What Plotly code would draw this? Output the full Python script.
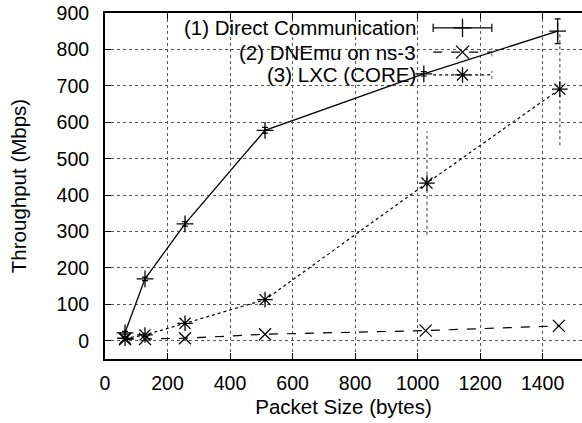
import plotly.graph_objects as go

# ---- data ----
pkt_direct = [64, 128, 256, 512, 1020, 1448]
thr_direct = [22, 170, 321, 578, 733, 850]
err_direct = [4, 5, 6, 8, 6, 34]

pkt_dnemu = [64, 128, 256, 512, 1026, 1452]
thr_dnemu = [4, 5, 7, 18, 28, 41]

pkt_lxc = [64, 128, 256, 512, 1030, 1455]
thr_lxc = [7, 16, 48, 113, 433, 691]
err_lxc = [3, 4, 5, 8, 142, 154]

names = ["(1) Direct Communication", "(2) DNEmu on ns-3", "(3) LXC (CORE)"]

x_ticks = [0, 200, 400, 600, 800, 1000, 1200, 1400]
y_ticks = [0, 100, 200, 300, 400, 500, 600, 700, 800, 900]

FONT = "Liberation Sans, Arial, Helvetica, sans-serif"
fig = go.Figure()

# Direct communication
fig.add_trace(go.Scatter(
    x=pkt_direct, y=thr_direct, mode="lines+markers",
    line=dict(color="black", width=1.3, dash="solid"),
    marker=dict(symbol="cross-thin", size=12, color="black",
                line=dict(color="black", width=1.3)),
    error_y=dict(type="data", array=err_direct, color="black", thickness=1.2, width=3),
    showlegend=False))

# DNEmu
fig.add_trace(go.Scatter(
    x=pkt_dnemu, y=thr_dnemu, mode="lines+markers",
    line=dict(color="black", width=1.2, dash="dash"),
    marker=dict(symbol="x-thin", size=12, color="black",
                line=dict(color="black", width=1.3)),
    showlegend=False))

# LXC error bars (dotted)
ex, ey = [], []
for xv, yv, ev in zip(pkt_lxc, thr_lxc, err_lxc):
    ex += [xv, xv, None]
    ey += [yv - ev, yv + ev, None]
fig.add_trace(go.Scatter(x=ex, y=ey, mode="lines",
                         line=dict(color="#777", width=1.5, dash="dot"),
                         showlegend=False, hoverinfo="skip"))
# LXC
fig.add_trace(go.Scatter(
    x=pkt_lxc, y=thr_lxc, mode="lines+markers",
    line=dict(color="black", width=1.2, dash="dot"),
    marker=dict(symbol="asterisk-open", size=13, color="black",
                line=dict(color="black", width=1.3)),
    showlegend=False))

# ---- manual gnuplot-style legend ----
leg_y = [0.957, 0.887, 0.821]
leg_text_x = 0.656
leg_x0, leg_x1 = 0.688, 0.811
leg_cx = (leg_x0 + leg_x1) / 2
dashes = ["solid", "dash", "dot"]
symbols = ["cross-thin", "x-thin", "asterisk-open"]
for i in range(3):
    fig.add_annotation(x=leg_text_x, y=leg_y[i], xref="paper", yref="paper",
                       text=names[i], showarrow=False, xanchor="right", yanchor="middle",
                       font=dict(family=FONT, size=20.5, color="black"))
    fig.add_shape(type="line", xref="paper", yref="paper", x0=leg_x0, x1=leg_x1,
                  y0=leg_y[i], y1=leg_y[i],
                  line=dict(color="black", width=1.2, dash=dashes[i]))
    fig.add_trace(go.Scatter(x=[leg_cx], y=[leg_y[i]], xaxis="x2", yaxis="y2",
                             mode="markers", showlegend=False, hoverinfo="skip",
                             marker=dict(symbol=symbols[i], size=13, color="black",
                                         line=dict(color="black", width=1.3))))
# end caps
fig.add_shape(type="line", xref="paper", yref="paper", x0=leg_x0, x1=leg_x0,
              y0=leg_y[0] - 0.012, y1=leg_y[0] + 0.012, line=dict(color="black", width=1.2))
for i in range(3):
    fig.add_shape(type="line", xref="paper", yref="paper", x0=leg_x1, x1=leg_x1,
                  y0=leg_y[i] - 0.012, y1=leg_y[i] + 0.012,
                  line=dict(color="black" if i == 0 else "#777", width=1.2,
                            dash="solid" if i == 0 else "dot"))

axis_common = dict(
    showline=True, linecolor="black", linewidth=2,
    ticks="inside", ticklen=6, tickcolor="black", tickwidth=1.2,
    showgrid=True, gridcolor="#555", griddash="dot", gridwidth=1,
    zeroline=False,
    tickfont=dict(family=FONT, size=19.5, color="black"),
)

fig.update_layout(
    width=582, height=423,
    margin=dict(l=105, r=0, t=13, b=64),
    paper_bgcolor="white", plot_bgcolor="white",
    font=dict(family=FONT, size=20, color="black"),
    xaxis=dict(range=[0, 1526], tickvals=x_ticks, mirror="allticks",
               ticklabelstandoff=6,
               title=dict(text="Packet Size (bytes)", font=dict(size=20.5), standoff=6),
               **axis_common),
    yaxis=dict(range=[-50, 900], tickvals=y_ticks, ticklabelstandoff=10,
               title=dict(text="Throughput (Mbps)", font=dict(size=20.5), standoff=24),
               **axis_common),
    xaxis2=dict(overlaying="x", range=[0, 1], visible=False),
    yaxis2=dict(overlaying="y", range=[0, 1], visible=False),
)

fig.write_html("out.html")
